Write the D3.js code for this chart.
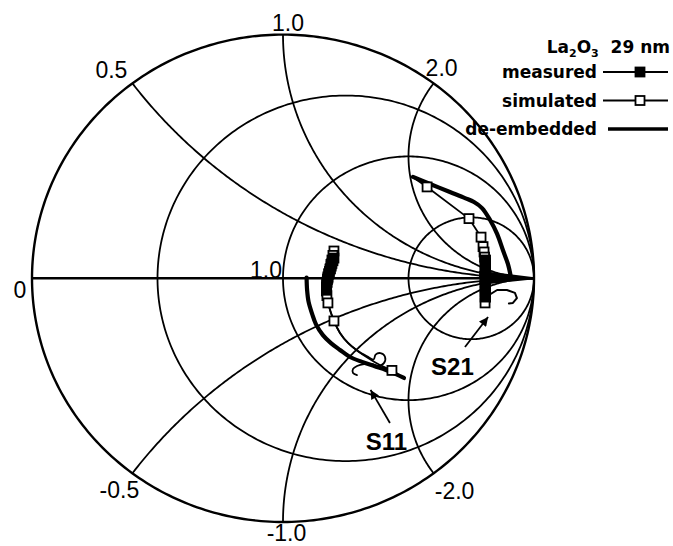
<!DOCTYPE html>
<html>
<head>
<meta charset="utf-8">
<script src="https://cdn.jsdelivr.net/npm/d3@7"></script>
<style>
  body { margin: 0; background: #fff; }
  svg { display: block; }
  .tick { font-family: "Liberation Sans", Arial, sans-serif; font-size: 23px; fill: #000; }
  .legend { font-family: "DejaVu Sans", sans-serif; font-weight: bold; font-size: 17px; fill: #000; }
  .tag { font-family: "Liberation Sans", Arial, sans-serif; font-weight: bold; font-size: 24px; fill: #000; }
</style>
</head>
<body>
<svg id="chart" width="673" height="546"></svg>
<script>
// ---- Smith chart grid ----
const resistanceCircles = [0, 1 / 3, 1, 3];
const reactanceArcs = [0.5, 1, 2, -0.5, -1, -2];
const reactanceLabels = ["0.5", "1.0", "2.0", "-0.5", "-1.0", "-2.0"];
const resistanceTicks = [0, 1];
const resistanceLabels = ["0", "1.0"];

// ---- S-parameter traces, reflection plane [re, im, marker] ----
const s11Measured = [
  [0.203, 0.083, 1], [0.199, 0.072, 1], [0.195, 0.061, 1], [0.192, 0.050, 1],
  [0.189, 0.039, 1], [0.185, 0.028, 1], [0.182, 0.017, 1], [0.179, 0.006, 1],
  [0.177, -0.005, 1], [0.175, -0.016, 1], [0.174, -0.027, 1], [0.173, -0.038, 1],
  [0.173, -0.049, 1],
  [0.175, -0.077, 0], [0.183, -0.114, 0], [0.203, -0.175, 0], [0.227, -0.224, 0],
  [0.259, -0.265, 0], [0.295, -0.296, 0], [0.335, -0.320, 0], [0.361, -0.333, 0],
  [0.369, -0.313, 0], [0.388, -0.307, 0], [0.406, -0.321, 0], [0.402, -0.348, 0],
  [0.378, -0.360, 0], [0.355, -0.352, 0], [0.323, -0.352, 0], [0.295, -0.360, 0],
  [0.279, -0.372, 0], [0.279, -0.389, 0], [0.295, -0.397, 0]
];
const s11Simulated = [
  [0.203, 0.112, 1], [0.199, 0.094, 1], [0.195, 0.075, 1], [0.191, 0.057, 1],
  [0.187, 0.038, 1], [0.183, 0.020, 1], [0.179, 0.001, 1], [0.175, -0.017, 1],
  [0.173, -0.036, 1], [0.173, -0.052, 1], [0.175, -0.071, 1], [0.179, -0.101, 1],
  [0.203, -0.175, 1], [0.227, -0.224, 0], [0.259, -0.265, 0], [0.295, -0.296, 0],
  [0.339, -0.327, 0], [0.386, -0.356, 0], [0.434, -0.378, 1]
];
const s11Deembedded = [
  [0.094, 0.003], [0.096, -0.048], [0.102, -0.097], [0.116, -0.146], [0.131, -0.188],
  [0.159, -0.233], [0.191, -0.266], [0.227, -0.294], [0.267, -0.323], [0.315, -0.343],
  [0.363, -0.360], [0.410, -0.376], [0.450, -0.393], [0.482, -0.409]
];
const s21Measured = [
  [0.992, 0.000, 0], [0.785, 0.027, 0], [0.992, 0.001, 0], [0.785, -0.023, 0],
  [0.992, -0.001, 0], [0.785, 0.018, 0], [0.992, 0.000, 0], [0.785, -0.014, 0],
  [0.992, 0.000, 0], [0.785, 0.006, 0], [0.992, 0.000, 0], [0.790, -0.005, 0],
  [0.807, 0.075, 1], [0.807, 0.061, 1], [0.807, 0.046, 1], [0.807, 0.032, 1],
  [0.807, 0.018, 1], [0.807, 0.003, 1], [0.807, -0.011, 1], [0.807, -0.026, 1],
  [0.807, -0.040, 1], [0.807, -0.054, 1], [0.807, -0.069, 1], [0.807, -0.077, 1],
  [0.853, -0.048, 0], [0.892, -0.048, 0], [0.924, -0.060, 0], [0.932, -0.081, 0],
  [0.916, -0.101, 0], [0.900, -0.103, 0]
];
const s21Simulated = [
  [0.522, 0.412, 0], [0.574, 0.375, 1], [0.741, 0.245, 1], [0.789, 0.169, 1],
  [0.797, 0.130, 1], [0.801, 0.108, 1], [0.803, 0.087, 1], [0.805, 0.067, 1],
  [0.805, 0.046, 1], [0.805, 0.026, 1], [0.805, 0.005, 1], [0.805, -0.015, 1],
  [0.805, -0.036, 1], [0.805, -0.056, 1], [0.805, -0.077, 1], [0.805, -0.101, 1]
];
const s21Deembedded = [
  [0.518, 0.416], [0.586, 0.387], [0.665, 0.354], [0.725, 0.329], [0.761, 0.313],
  [0.793, 0.288], [0.825, 0.239], [0.853, 0.182], [0.876, 0.116], [0.896, 0.059],
  [0.908, 0.005]
];

// ---- trace annotations ----
const traceNames = ["S11", "S21"];
const traceNameAt = [[0.412, -0.670], [0.675, -0.360]];
const arrowFrom = [[0.426, -0.594], [0.725, -0.282]];
const arrowTo = [[0.349, -0.458], [0.817, -0.159]];

// ---- legend ----
const legendNames = ["measured", "simulated", "de-embedded"];

// label placement (pixels from the grid point)
const reactanceLabelShift = [[-21, -14], [5, -12], [8, -15.5], [-13, 17], [3.5, 10.5], [21, 18]];
const resistanceLabelShift = [[-12, 11], [-17, -9]];

const svg = d3.select("#chart");
const x = d3.scaleLinear().domain([-1, 1]).range([32, 534]);
const y = d3.scaleLinear().domain([-1, 1]).range([522, 34.6]);

const straight = d3.line().x(d => x(d[0])).y(d => y(d[1]));
const smooth = d3.line().x(d => x(d[0])).y(d => y(d[1])).curve(d3.curveCatmullRom.alpha(0.5));

// reflection coefficient for normalised impedance r + jx
function gamma(r, xx) {
  const d = (r + 1) * (r + 1) + xx * xx;
  return [(r * r + xx * xx - 1) / d, 2 * xx / d];
}
function resistanceCircle(r) {
  const c = r / (1 + r), rad = 1 / (1 + r);
  return d3.range(0, 361).map(a => [c + rad * Math.cos(a * Math.PI / 180), rad * Math.sin(a * Math.PI / 180)]);
}
function reactanceArc(xx) {
  // walk along the arc inside the unit circle: from jx to the open-circuit point
  const c = [1, 1 / xx], rad = Math.abs(1 / xx);
  const g = gamma(0, xx);
  const a0 = Math.atan2(g[1] - c[1], g[0] - c[0]);
  const a1 = Math.atan2(0 - c[1], 1 - c[0]);
  let da = a1 - a0;
  if (xx > 0 && da < 0) da += 2 * Math.PI;
  if (xx < 0 && da > 0) da -= 2 * Math.PI;
  return d3.range(0, 201).map(i => {
    const a = a0 + da * i / 200;
    return [c[0] + rad * Math.cos(a), c[1] + rad * Math.sin(a)];
  });
}

const grid = svg.append("g").attr("fill", "none").attr("stroke", "#000");

grid.selectAll("path.r").data(resistanceCircles).join("path")
  .attr("class", "r")
  .attr("d", r => straight(resistanceCircle(r)))
  .attr("stroke-width", r => r === 0 ? 2.4 : 1.8);

grid.selectAll("path.x").data(reactanceArcs).join("path")
  .attr("class", "x")
  .attr("d", v => straight(reactanceArc(v)))
  .attr("stroke-width", 1.8);

grid.append("path")
  .attr("d", straight([[-1, 0], [1, 0]]))
  .attr("stroke-width", 2.4);

// grid labels
svg.selectAll("text.xl").data(reactanceArcs).join("text")
  .attr("class", "tick xl")
  .attr("text-anchor", "middle")
  .attr("x", (v, i) => x(gamma(0, v)[0]) + reactanceLabelShift[i][0])
  .attr("y", (v, i) => y(gamma(0, v)[1]) + reactanceLabelShift[i][1] + 8.2)
  .text((v, i) => reactanceLabels[i]);

svg.selectAll("text.rl").data(resistanceTicks).join("text")
  .attr("class", "tick rl")
  .attr("text-anchor", "middle")
  .attr("x", (v, i) => x(gamma(v, 0)[0]) + resistanceLabelShift[i][0])
  .attr("y", (v, i) => y(gamma(v, 0)[1]) + resistanceLabelShift[i][1] + 8.2)
  .text((v, i) => resistanceLabels[i]);

// traces
const traces = svg.append("g").attr("fill", "none").attr("stroke", "#000");
function drawLine(data, width, curve) {
  traces.append("path").attr("d", curve(data)).attr("stroke-width", width)
    .attr("stroke-linejoin", "round").attr("stroke-linecap", "round");
}
drawLine(s11Deembedded, 4.2, smooth);
drawLine(s21Deembedded, 4.2, smooth);
drawLine(s11Simulated, 1.8, smooth);
drawLine(s21Simulated, 1.8, straight);
drawLine(s11Measured, 1.8, smooth);
drawLine(s21Measured, 2, straight);

const sq = 9;
function drawMarkers(data, filled) {
  svg.append("g").selectAll("rect").data(data.filter(d => d[2])).join("rect")
    .attr("x", d => x(d[0]) - sq / 2).attr("y", d => y(d[1]) - sq / 2)
    .attr("width", sq).attr("height", sq)
    .attr("fill", filled ? "#000" : "#fff")
    .attr("stroke", "#000").attr("stroke-width", 1.8);
}
drawMarkers(s11Simulated, false);
drawMarkers(s21Simulated, false);
drawMarkers(s11Measured, true);
drawMarkers(s21Measured, true);

// arrows and trace names
svg.append("defs").append("marker")
  .attr("id", "head").attr("viewBox", "0 0 10 10")
  .attr("refX", 10).attr("refY", 5)
  .attr("markerWidth", 12).attr("markerHeight", 9)
  .attr("markerUnits", "userSpaceOnUse")
  .attr("orient", "auto")
  .append("path").attr("d", "M0,0L10,5L0,10Z").attr("fill", "#000");

svg.selectAll("line.arrow").data(traceNames).join("line")
  .attr("class", "arrow")
  .attr("x1", (d, i) => x(arrowFrom[i][0])).attr("y1", (d, i) => y(arrowFrom[i][1]))
  .attr("x2", (d, i) => x(arrowTo[i][0])).attr("y2", (d, i) => y(arrowTo[i][1]))
  .attr("stroke", "#000").attr("stroke-width", 1.8)
  .attr("marker-end", "url(#head)");

svg.selectAll("text.tag").data(traceNames).join("text")
  .attr("class", "tag")
  .attr("text-anchor", "middle")
  .attr("x", (d, i) => x(traceNameAt[i][0]))
  .attr("y", (d, i) => y(traceNameAt[i][1]) + 8.6)
  .text(d => d);

// legend
const lg = svg.append("g");
const title = lg.append("text").attr("class", "legend").attr("text-anchor", "end")
  .attr("x", 670).attr("y", 53);
title.append("tspan").text("La");
title.append("tspan").attr("font-size", 11).attr("dy", 4).text("2");
title.append("tspan").attr("dy", -4).text("O");
title.append("tspan").attr("font-size", 11).attr("dy", 4).text("3");
title.append("tspan").attr("dy", -4).text("\u00a0\u00a029 nm");

const rows = lg.selectAll("g.row").data(legendNames).join("g")
  .attr("class", "row")
  .attr("transform", (d, i) => `translate(0,${78 + i * 28.5})`);
rows.append("text").attr("class", "legend").attr("text-anchor", "end")
  .attr("x", 597).attr("y", 0).text(d => d);
rows.append("line")
  .attr("x1", (d, i) => i === 2 ? 608 : 603).attr("x2", 668)
  .attr("y1", -6).attr("y2", -6)
  .attr("stroke", "#000").attr("stroke-width", (d, i) => i === 2 ? 3.4 : 1.8);
rows.filter((d, i) => i < 2).append("rect")
  .attr("x", 640 - sq / 2).attr("y", -6 - sq / 2)
  .attr("width", sq).attr("height", sq)
  .attr("fill", (d, i) => i === 0 ? "#000" : "#fff")
  .attr("stroke", "#000").attr("stroke-width", 1.8);
</script>
</body>
</html>
